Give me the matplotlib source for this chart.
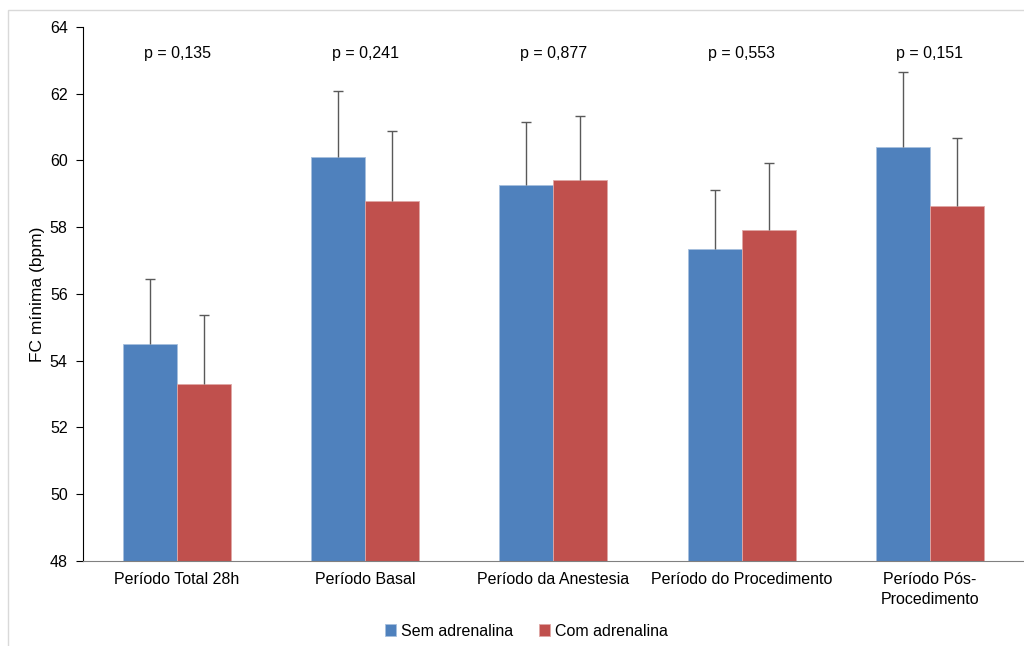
import matplotlib
matplotlib.use("Agg")
from matplotlib import pyplot as plt
from matplotlib.patches import Rectangle
import numpy as np

plt.rcParams['font.family'] = ['Liberation Sans', 'DejaVu Sans']

categories = ["Período Total 28h", "Período Basal", "Período da Anestesia",
              "Período do Procedimento", "Período Pós-\nProcedimento"]
sem = [54.50, 60.10, 59.27, 57.35, 60.40]
sem_err = [1.95, 1.98, 1.88, 1.77, 2.25]
com = [53.30, 58.79, 59.42, 57.92, 58.64]
com_err = [2.07, 2.09, 1.91, 2.01, 2.03]
p_values = ["p = 0,135", "p = 0,241", "p = 0,877", "p = 0,553", "p = 0,151"]

fig = plt.figure(figsize=(10.24, 6.46), dpi=100)
ax = fig.add_axes([0.081, 0.1316, 0.919, 0.8266])

x = np.arange(len(categories))
w = 0.287
err_kw = dict(ecolor="#595959", elinewidth=1, capsize=3.5, capthick=1)
b1 = ax.bar(x - w / 2, sem, w, color="#4F81BD", edgecolor="#A7C0DE", linewidth=0.6,
            yerr=[np.zeros(5), sem_err], error_kw=err_kw, label="Sem adrenalina")
b2 = ax.bar(x + w / 2, com, w, color="#C0504D", edgecolor="#E0A8A6", linewidth=0.6,
            yerr=[np.zeros(5), com_err], error_kw=err_kw, label="Com adrenalina")
# only the upper cap
for b in (b1, b2):
    caps = b.errorbar.lines[1]
    caps[0].set_visible(False)

for i, p in enumerate(p_values):
    ax.text(x[i], 63.22, p, ha="center", va="center", fontsize=11.5)

ax.set_ylim(48, 64)
ax.set_yticks(np.arange(48, 65, 2))
ax.set_xlim(-0.5, 4.5)
ax.set_xticks(x)
ax.set_xticklabels(categories, fontsize=11.5, linespacing=1.45)
ax.tick_params(axis="x", length=0, pad=8)
ax.tick_params(axis="y", length=5, direction="out", labelsize=11.5, pad=6)
ax.set_ylabel("FC mínima (bpm)", fontsize=12.5, labelpad=3)

for s in ["top", "right"]:
    ax.spines[s].set_visible(False)
ax.spines["bottom"].set_color("#808080")
ax.spines["left"].set_color("black")

ax.legend(loc="center", bbox_to_anchor=(0.514, 0.023), bbox_transform=fig.transFigure,
          ncol=2, frameon=False, fontsize=11.5, handlelength=0.7, handleheight=0.7,
          handletextpad=0.3, columnspacing=1.6)

fig.patches.append(Rectangle((8 / 1024, -0.1), 1.1, 1 - 10 / 646 + 0.1, transform=fig.transFigure,
                             fill=False, edgecolor="#D9D9D9", linewidth=1, zorder=-1))

fig.savefig("out.png", dpi=100)
